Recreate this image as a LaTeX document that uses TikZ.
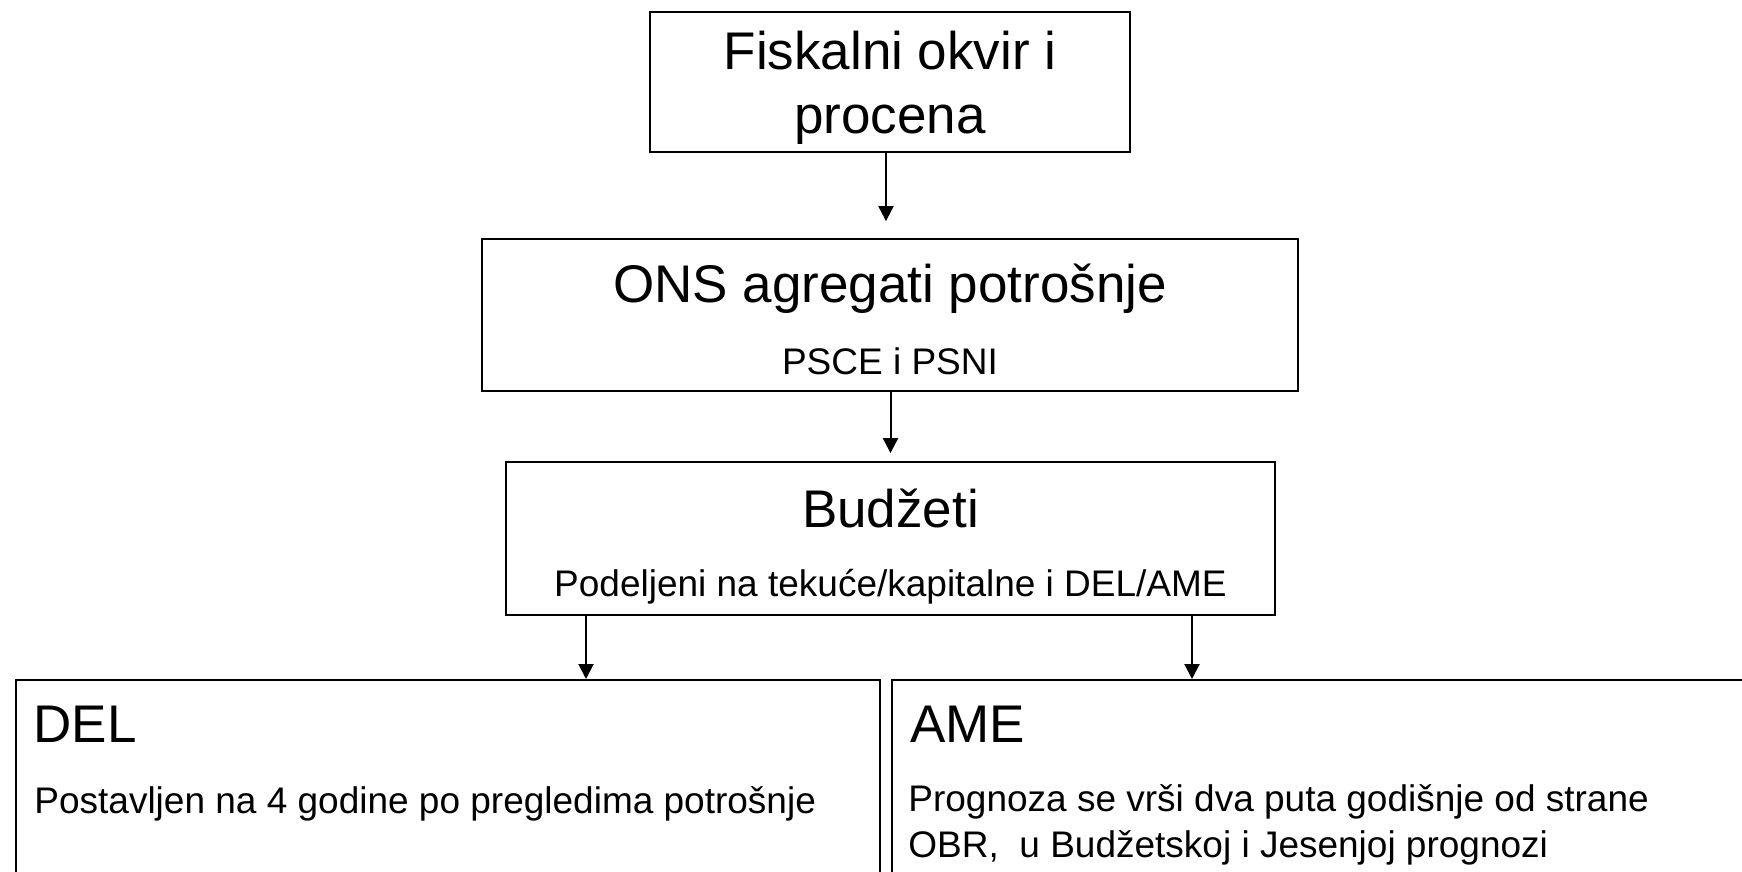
\documentclass[tikz,border=0pt]{standalone}
\usepackage{fontspec}
\setmainfont{Liberation Sans}
\usetikzlibrary{positioning,arrows.meta}

\tikzset{
  box/.style={draw, line width=0.9pt, inner sep=0pt},
  bigtext/.style={font=\fontsize{26.5}{32}\selectfont},
  smalltext/.style={font=\fontsize{18.5}{23}\selectfont},
  arr/.style={-{Triangle[length=7.5pt,width=7.5pt]}, line width=1pt},
}

\begin{document}
\begin{tikzpicture}[x=0.5pt,y=-0.5pt]
  \useasboundingbox (0,0) rectangle (1742,872);
  \clip (0,0) rectangle (1742,872);

  % Boxes
  \node[box, minimum width=240pt, minimum height=70pt] (fisk) at (890,82) {};
  \node[box, minimum width=408pt, minimum height=76pt] (ons) at (890,315) {};
  \node[box, minimum width=384.5pt, minimum height=76.5pt] (bud) at (890.5,538.5) {};
  \node[box, anchor=north west, minimum width=432pt, minimum height=200pt] (del) at (15,679) {};
  \node[box, anchor=north west, minimum width=450pt, minimum height=200pt] (ame) at (891,679) {};

  % Texts
  \node[bigtext, align=center] (fisktext) at (890,88) {Fiskalni okvir i\\procena};
  \node[bigtext, anchor=base] (onstitle) at (890,302) {ONS agregati potrošnje};
  \node[smalltext, anchor=base] (onssub) at (890,374) {PSCE i PSNI};
  \node[bigtext, anchor=base] (budtitle) at (890.5,527) {Budžeti};
  \node[smalltext, anchor=base] (budsub) at (890.5,596) {Podeljeni na tekuće/kapitalne i DEL/AME};
  \node[bigtext, anchor=base west, inner sep=0pt] (deltitle) at (33,742) {DEL};
  \node[smalltext, anchor=base west, inner sep=0pt] (deltext) at (34,813) {Postavljen na 4 godine po pregledima potrošnje};
  \node[bigtext, anchor=base west, inner sep=0pt] (ametitle) at (910,742) {AME};
  \node[smalltext, anchor=base west, inner sep=0pt] (ametext) at (908,811) {Prognoza se vrši dva puta godišnje od strane};
  \node[smalltext, anchor=base west, inner sep=0pt] (ametextb) at (908,857) {OBR,~ u Budžetskoj i Jesenjoj prognozi};

  % Arrows
  \draw[arr, shorten >=8.5pt] ([xshift=-2pt]fisk.south) -- ([xshift=-2pt]fisk.south |- ons.north);
  \draw[arr, shorten >=4pt] (bud.north |- ons.south) -- (bud.north);
  \draw[arr] ([xshift=-152.25pt]bud.south) -- ([xshift=-152.25pt]bud.south |- del.north);
  \draw[arr] ([xshift=150.75pt]bud.south) -- ([xshift=150.75pt]bud.south |- ame.north);
\end{tikzpicture}
\end{document}
